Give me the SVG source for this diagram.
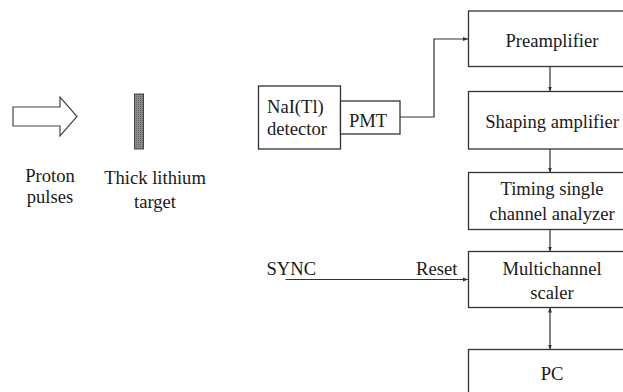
<svg xmlns="http://www.w3.org/2000/svg" width="623" height="392" viewBox="0 0 623 392">
<style>
.box{fill:#fff;stroke:#333;stroke-width:1.3}
.t{font-family:"Liberation Serif","Times New Roman",serif;font-size:18.6px;fill:#1a1a1a}
.m{text-anchor:middle}
.c{fill:none;stroke:#333;stroke-width:1.2}
</style>
<defs>
<marker id="ah" viewBox="0 0 10 10" refX="10" refY="5" markerWidth="5" markerHeight="5" orient="auto-start-reverse" markerUnits="userSpaceOnUse">
<path d="M0,1 L10,5 L0,9 Z" fill="#333"/>
</marker>
<pattern id="dots" width="2" height="2" patternUnits="userSpaceOnUse">
<rect width="2" height="2" fill="#8a8a8a"/>
<rect width="1" height="1" fill="#666"/>
</pattern>
</defs>
<g id="proton-arrow">
<path d="M13,107 L60,107 L60,97 L77,116.5 L60,136 L60,126 L13,126 Z" fill="#fff" stroke="#444" stroke-width="1.2"/>
<text class="t m" x="50" y="182">Proton</text>
<text class="t m" x="50" y="203">pulses</text>
</g>
<g id="target">
<rect x="134.5" y="94" width="9" height="55" fill="url(#dots)" stroke="#444" stroke-width="1"/>
<text class="t m" x="155" y="184">Thick lithium</text>
<text class="t m" x="155" y="208">target</text>
</g>
<g id="detector">
<rect class="box" x="258.5" y="86" width="82" height="63"/>
<text class="t" x="267" y="112.5">NaI(Tl)</text>
<text class="t" x="267" y="135">detector</text>
</g>
<g id="pmt">
<rect class="box" x="340.5" y="101" width="59.5" height="33"/>
<text class="t m" x="368" y="126.5">PMT</text>
</g>
<g id="preamplifier">
<rect class="box" x="468.5" y="11" width="170" height="55.5"/>
<text class="t m" x="552" y="46.5">Preamplifier</text>
</g>
<g id="shaping">
<rect class="box" x="468.5" y="91.5" width="170" height="57.5"/>
<text class="t m" x="552" y="128">Shaping amplifier</text>
</g>
<g id="tsca">
<rect class="box" x="468.5" y="172.5" width="170" height="57"/>
<text class="t m" x="552" y="195">Timing single</text>
<text class="t m" x="552" y="220">channel analyzer</text>
</g>
<g id="mcs">
<rect class="box" x="468.5" y="251.5" width="170" height="56"/>
<text class="t m" x="552" y="275">Multichannel</text>
<text class="t m" x="552" y="299">scaler</text>
</g>
<g id="pc">
<rect class="box" x="468.5" y="349.5" width="170" height="60"/>
<text class="t m" x="552" y="380">PC</text>
</g>
<g id="sync">
<text class="t" x="266.5" y="275">SYNC</text>
<text class="t" x="416" y="275">Reset</text>
</g>
<g id="connectors">
<path class="c" d="M400,117 L434,117 L434,39 L468,39" marker-end="url(#ah)"/>
<path class="c" d="M550,66.5 L550,91.5" marker-end="url(#ah)"/>
<path class="c" d="M550,149 L550,172.5" marker-end="url(#ah)"/>
<path class="c" d="M550,229.5 L550,251.5" marker-end="url(#ah)"/>
<path class="c" d="M550,307.5 L550,349.5" marker-start="url(#ah)" marker-end="url(#ah)"/>
<path class="c" d="M285.5,279.5 L468,279.5" marker-end="url(#ah)"/>
</g>
</svg>
